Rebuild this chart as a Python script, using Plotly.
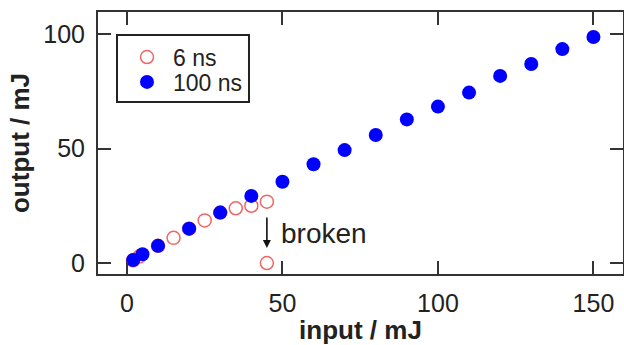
import plotly.graph_objects as go

# 6 ns pulse data (open red circles)
x_6ns = [2, 4, 10, 15, 20, 25, 30, 35, 40, 45, 45]
y_6ns = [1.2, 2.8, 7.5, 11.0, 15.0, 18.6, 22.0, 23.9, 25.0, 26.8, 0.0]

# 100 ns pulse data (filled blue circles)
x_100ns = [2, 5, 10, 20, 30, 40, 50, 60, 70, 80, 90, 100, 110, 120, 130, 140, 150]
y_100ns = [1.3, 3.8, 7.5, 15.0, 22.0, 29.3, 35.5, 43.1, 49.3, 55.9, 62.7,
           68.3, 74.4, 81.7, 86.9, 93.4, 98.7]

tick_vals_x = [0, 50, 100, 150]
tick_vals_y = [0, 50, 100]

FONT = "Liberation Sans, Arial, sans-serif"
TXT = "#222222"
AX = "#333333"

fig = go.Figure()
fig.add_trace(go.Scatter(
    x=x_6ns, y=y_6ns, mode="markers", name="6 ns", legend="legend",
    marker=dict(symbol="circle-open", size=13, color="#f06666",
                line=dict(width=1.5, color="#f06666")),
))
fig.add_trace(go.Scatter(
    x=x_100ns, y=y_100ns, mode="markers", name="100 ns", legend="legend2",
    marker=dict(symbol="circle", size=14, color="#0000ff", line=dict(width=0)),
))

axis_common = dict(
    showgrid=False, zeroline=False, showline=True, linewidth=2, linecolor=AX,
    mirror="ticks", ticks="inside", ticklen=13, tickwidth=2, tickcolor=AX,
    tickfont=dict(family=FONT, size=25, color=TXT),
)

fig.update_xaxes(range=[-9.3, 159.5], tickvals=tick_vals_x,
                 title=dict(text="<b>input / mJ</b>", font=dict(family=FONT, size=26, color=TXT),
                            standoff=8),
                 ticklabelstandoff=6, **axis_common)
fig.update_yaxes(range=[-4.8, 109.6], tickvals=tick_vals_y,
                 title=dict(text="<b>output / mJ</b>", font=dict(family=FONT, size=26, color=TXT),
                            standoff=6),
                 ticklabelstandoff=6, **axis_common)

fig.add_annotation(x=45, y=6.5, ax=45, ay=20.5, axref="x", ayref="y", xref="x", yref="y",
                   text="", showarrow=True, arrowhead=2, arrowsize=1, arrowwidth=1.6,
                   arrowcolor="#111111", standoff=0, startstandoff=0)
fig.add_annotation(x=49, y=13.1, xref="x", yref="y", text="broken", showarrow=False,
                   xanchor="left", yanchor="middle",
                   font=dict(family=FONT, size=28, color=TXT))

# legend frame
fig.add_shape(type="rect", xref="paper", yref="paper",
              x0=0.0362, x1=0.2876, y0=0.6565, y1=0.9122,
              line=dict(color=TXT, width=2), fillcolor="rgba(0,0,0,0)")

leg_common = dict(xanchor="left", yanchor="middle", borderwidth=0,
                  bgcolor="rgba(0,0,0,0)", itemwidth=42,
                  font=dict(family=FONT, size=23, color=TXT))

fig.update_layout(
    width=624, height=345,
    margin=dict(l=98, r=1, t=12, b=71, autoexpand=False),
    paper_bgcolor="white", plot_bgcolor="white",
    showlegend=True,
    legend=dict(x=0.0438, y=0.828, **leg_common),
    legend2=dict(x=0.0438, y=0.733, **leg_common),
)

fig.write_html("out.html")
